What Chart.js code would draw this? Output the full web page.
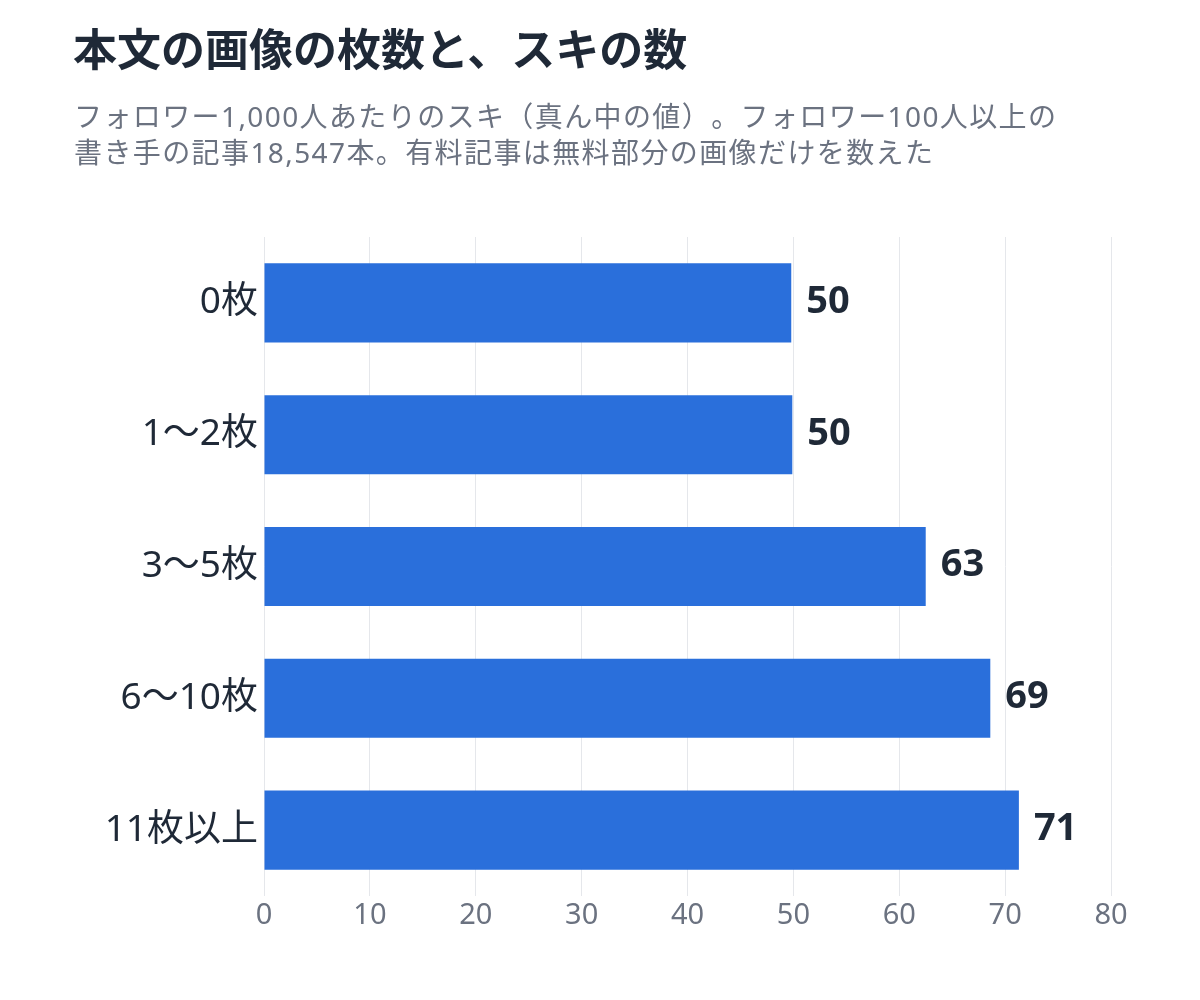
<!DOCTYPE html>
<html lang="ja"><head><meta charset="utf-8">
<script src="https://cdn.jsdelivr.net/npm/chart.js@4"></script>
<style>
html,body{margin:0;padding:0;background:#fff;}
body{width:1200px;height:1000px;position:relative;overflow:hidden;font-family:"Noto Sans","Noto Sans CJK JP",sans-serif;}
#title{position:absolute;left:73px;top:20px;font-size:44px;line-height:60px;font-weight:bold;color:#1f2937;font-family:Inter,"Noto Sans CJK JP",sans-serif;}
#sub{position:absolute;left:74px;top:98px;font-size:28px;line-height:36px;letter-spacing:1.4px;color:#6b7280;white-space:nowrap;text-spacing-trim:space-all;}
#wrap{position:absolute;left:0;top:0;width:1200px;height:1000px;}
</style></head>
<body>
<div id="wrap"><canvas id="c" width="1200" height="1000"></canvas></div>
<div id="title">本文の画像の枚数と、スキの数</div>
<div id="sub">フォロワー1,000人あたりのスキ（真ん中の値）。フォロワー100人以上の<br>書き手の記事18,547本。有料記事は無料部分の画像だけを数えた</div>
<script>
const categories = ["0枚","1〜2枚","3〜5枚","6〜10枚","11枚以上"];
const values = [49.8, 49.9, 62.5, 68.6, 71.3];
const xTicks = [0,10,20,30,40,50,60,70,80];
const FONT = '"Noto Sans", "Noto Sans CJK JP", sans-serif';

const labelPlugin = {
  id:'barLabels',
  afterDatasetsDraw(chart){
    const ctx = chart.ctx;
    const meta = chart.getDatasetMeta(0);
    ctx.save();
    ctx.font = 'bold 38px ' + FONT;
    ctx.fillStyle = '#1f2937';
    ctx.textAlign = 'left';
    ctx.textBaseline = 'middle';
    meta.data.forEach((bar,i)=>{
      ctx.fillText(String(Math.round(values[i])), bar.x + 15, bar.y - 1);
    });
    ctx.restore();
  }
};

new Chart(document.getElementById('c'), {
  type:'bar',
  data:{labels:categories, datasets:[{data:values, backgroundColor:'#2a6fdb', barPercentage:0.6, categoryPercentage:1.0}]},
  options:{
    indexAxis:'y',
    responsive:false,
    animation:false,
    devicePixelRatio:1,
    layout:{padding:{left:0,right:89,top:237,bottom:0}},
    plugins:{legend:{display:false},tooltip:{enabled:false}},
    scales:{
      x:{
        min:0,max:80,
        afterBuildTicks(scale){ scale.ticks = xTicks.map(v=>({value:v})); },
        grid:{color:'#e5e7eb',lineWidth:1,drawTicks:false},
        border:{display:false},
        ticks:{color:'#6b7280',font:{size:29,family:FONT},padding:2},
        afterFit(scale){ scale.height = 104; }
      },
      y:{
        grid:{display:false,drawTicks:false},
        border:{display:false},
        ticks:{color:'#1f2937',font:{size:37,family:FONT},padding:6},
        afterFit(scale){ scale.width = 264; }
      }
    }
  },
  plugins:[labelPlugin]
});
</script>
</body></html>
